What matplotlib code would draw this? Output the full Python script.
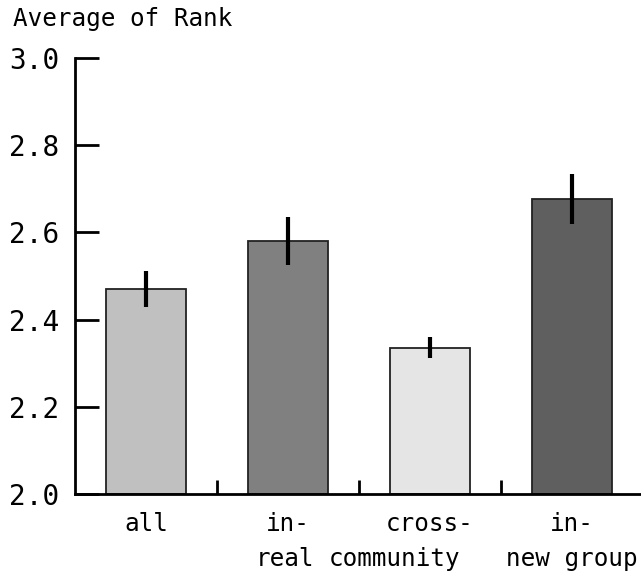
import matplotlib
matplotlib.use("Agg")
import matplotlib.pyplot as plt

# Data
categories = ["all", "in-real", "cross-community", "in-new group"]
label_top = ["all", "in-", "cross-", "in-"]
label_bottom = ["", "real", "community", "new group"]
means = [2.47, 2.58, 2.335, 2.677]
errors = [0.041, 0.055, 0.024, 0.057]
bar_colors = ["#c0c0c0", "#808080", "#e5e5e5", "#5f5f5f"]

# horizontal nudges (in category units) for the second line of each label
bottom_shift = [0.0, -0.02, -0.25, 0.0]

FONT = "DejaVu Sans Mono"
plt.rcParams["font.family"] = [FONT]

fig = plt.figure(figsize=(6.41, 5.74), dpi=100)
ax = fig.add_axes([75 / 641, 80 / 574, 568 / 641, 436 / 574])

x = list(range(len(categories)))
ax.bar(x, [m - 2.0 for m in means], bottom=2.0, width=0.56,
       color=bar_colors, edgecolor="#222222", linewidth=1.3, zorder=2)
ax.errorbar(x, means, yerr=errors, fmt="none", ecolor="black",
            elinewidth=3, capsize=0, zorder=3)

ax.set_xlim(-0.5, 3.5)
ax.set_ylim(2.0, 3.0)
ax.set_yticks([2.0, 2.2, 2.4, 2.6, 2.8, 3.0])
ax.set_yticklabels(["2.0", "2.2", "2.4", "2.6", "2.8", "3.0"])

for side in ("top", "right"):
    ax.spines[side].set_visible(False)
for side in ("left", "bottom"):
    ax.spines[side].set_linewidth(2)
    ax.spines[side].set_color("black")

ax.tick_params(axis="y", direction="in", length=17, width=2,
               labelsize=20, pad=11)
ax.set_xticks(x)
ax.set_xticklabels(label_top)
ax.tick_params(axis="x", which="major", length=0, labelsize=17.5, pad=13)
ax.set_xticks([0.5, 1.5, 2.5], minor=True)
ax.tick_params(axis="x", which="minor", direction="in", length=10, width=2)

for xi, txt, dx in zip(x, label_bottom, bottom_shift):
    if txt:
        ax.annotate(txt, xy=(xi + dx, 0), xycoords=("data", "axes fraction"),
                    xytext=(0, -38), textcoords="offset points",
                    ha="center", va="top", fontsize=17.5, family=FONT,
                    annotation_clip=False)

fig.text(13 / 641, 1 - 7 / 574, "Average of Rank", ha="left", va="top",
         fontsize=17.5, family=FONT)

fig.savefig("out.png", dpi=100)
